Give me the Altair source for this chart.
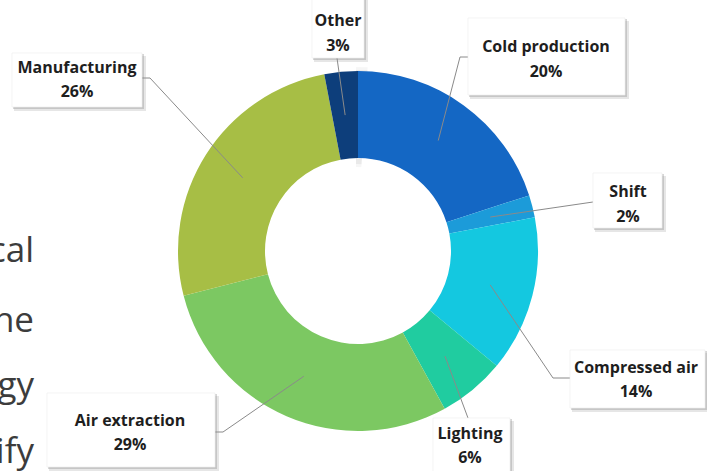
import altair as alt
import pandas as pd

# ---- data ----
categories = ["Cold production", "Shift", "Compressed air", "Lighting",
              "Air extraction", "Manufacturing", "Other"]
shares = [20, 2, 14, 6, 29, 26, 3]
colors = ["#1467C4", "#1C9BD9", "#14C8E0", "#20CCA0", "#7CC862", "#A7BE45", "#0D3E7B"]

# ---- callout layout (pixel positions) ----
box_x1 = [468, 593, 570, 433, 47, 12, 312]
box_x2 = [625, 662, 705, 510, 215, 142, 364]
box_y1 = [18, 173, 350, 418, 393, 53, -6]
box_y2 = [95, 228, 408, 480, 467, 107, 58]
label_cx = [546, 628, 636, 470, 130, 77, 338]
label_y1 = [47, 192, 368, 434, 421, 68, 21]
label_y2 = [72, 217, 392, 458, 445, 92, 46]
elbow_x = [460, 593, 553, 468, 223, 150, 337]
elbow_y = [57, 202, 378, 418, 432, 78, 58]
end_x = [468, 593, 570, 468, 215, 142, 337]
end_y = [57, 202, 378, 418, 432, 78, 58]

side_text = ["cal", "he", "gy", "ify"]
side_y = [262, 332, 397, 463]

CX, CY = 358, 251
R_OUT, R_IN = 180, 93
R_MID = (R_OUT + R_IN) / 2
W, H = 707, 471

df = pd.DataFrame({
    "idx": list(range(len(categories))),
    "category": categories, "share": shares,
    "bx1": box_x1, "bx2": box_x2, "by1": box_y1, "by2": box_y2,
    "lcx": label_cx, "ly1": label_y1, "ly2": label_y2,
    "ex": elbow_x, "ey": elbow_y, "tx": end_x, "ty": end_y,
})
side_df = pd.DataFrame({"t": side_text, "y": side_y})

xs = alt.Scale(domain=[0, W], nice=False, zero=False)
ys = alt.Scale(domain=[0, H], nice=False, zero=False, reverse=True)

def X(f):
    return alt.X(f, type="quantitative", scale=xs, axis=None)

def Y(f):
    return alt.Y(f, type="quantitative", scale=ys, axis=None)

base = alt.Chart(df)

# soft shadow around the ring
shadow_layers = []
for r_o, r_i, op in [(186, 178, 0.035), (183, 178, 0.05), (95, 86, 0.035), (95, 89, 0.05)]:
    shadow_layers.append(
        alt.Chart(pd.DataFrame({"v": [1]})).mark_arc(
            innerRadius=r_i, outerRadius=r_o, color="#000000", opacity=op
        ).encode(theta=alt.Theta("v:Q"), x=alt.value(CX - 2), y=alt.value(CY + 2))
    )

arcs = base.mark_arc(innerRadius=R_IN, outerRadius=R_OUT).encode(
    theta=alt.Theta("share:Q", stack=True),
    order=alt.Order("idx:Q", sort="ascending"),
    color=alt.Color("category:N", scale=alt.Scale(domain=categories, range=colors), legend=None),
    x=alt.value(CX), y=alt.value(CY),
)

lead_base = base.transform_joinaggregate(total="sum(share)").transform_window(
    cum="sum(share)", sort=[alt.SortField("idx")], frame=[None, 0]
).transform_calculate(
    mid="(datum.cum - datum.share/2) / datum.total * 2 * PI",
    sx=f"{CX} + {R_MID} * sin(datum.mid)",
    sy=f"{CY} - {R_MID} * cos(datum.mid)",
)
lead1 = lead_base.mark_rule(color="#8a8a8a", strokeWidth=1).encode(
    x=X("sx"), y=Y("sy"), x2="ex:Q", y2="ey:Q")
lead2 = base.mark_rule(color="#8a8a8a", strokeWidth=1).encode(
    x=X("ex"), y=Y("ey"), x2="tx:Q", y2="ty:Q")

shadow_a = base.transform_calculate(
    a1="datum.bx1 + 2", a2="datum.bx2 + 4", b1="datum.by1 + 3", b2="datum.by2 + 4"
).mark_rect(color="#9a9a9a", opacity=0.25).encode(
    x=X("a1"), x2="a2:Q", y=Y("b1"), y2="b2:Q")
shadow_b = base.transform_calculate(
    a1="datum.bx1 + 1", a2="datum.bx2 + 2", b1="datum.by1 + 1", b2="datum.by2 + 2"
).mark_rect(color="#8a8a8a", opacity=0.35).encode(
    x=X("a1"), x2="a2:Q", y=Y("b1"), y2="b2:Q")
boxes = base.mark_rect(color="#ffffff", stroke="#ececec", strokeWidth=0.6).encode(
    x=X("bx1"), x2="bx2:Q", y=Y("by1"), y2="by2:Q")

LBL_FONT = "Open Sans"
LBL_SIZE = 16
names = base.mark_text(font=LBL_FONT, fontSize=LBL_SIZE, fontWeight="bold", color="#1e1e1e",
                       align="center", baseline="middle").encode(
    x=X("lcx"), y=Y("ly1"), text="category:N")
pcts = base.transform_calculate(p="datum.share + '%'").mark_text(
    font=LBL_FONT, fontSize=LBL_SIZE, fontWeight="bold", color="#1e1e1e",
    align="center", baseline="middle").encode(
    x=X("lcx"), y=Y("ly2"), text="p:N")

side = alt.Chart(side_df).mark_text(font="Open Sans", fontSize=35, color="#3c3c3c",
                                    align="right", baseline="alphabetic").encode(
    x=alt.value(34), y=Y("y"), text="t:N")

chart = alt.layer(
    *shadow_layers, arcs, lead1, lead2, shadow_a, shadow_b, boxes, names, pcts, side
).properties(
    width=W, height=H, padding=0, autosize=alt.AutoSizeParams(type="none"),
    background="#ffffff",
).configure_view(stroke=None)

chart.save("out.html", embed_options={"renderer": "svg", "actions": False})
